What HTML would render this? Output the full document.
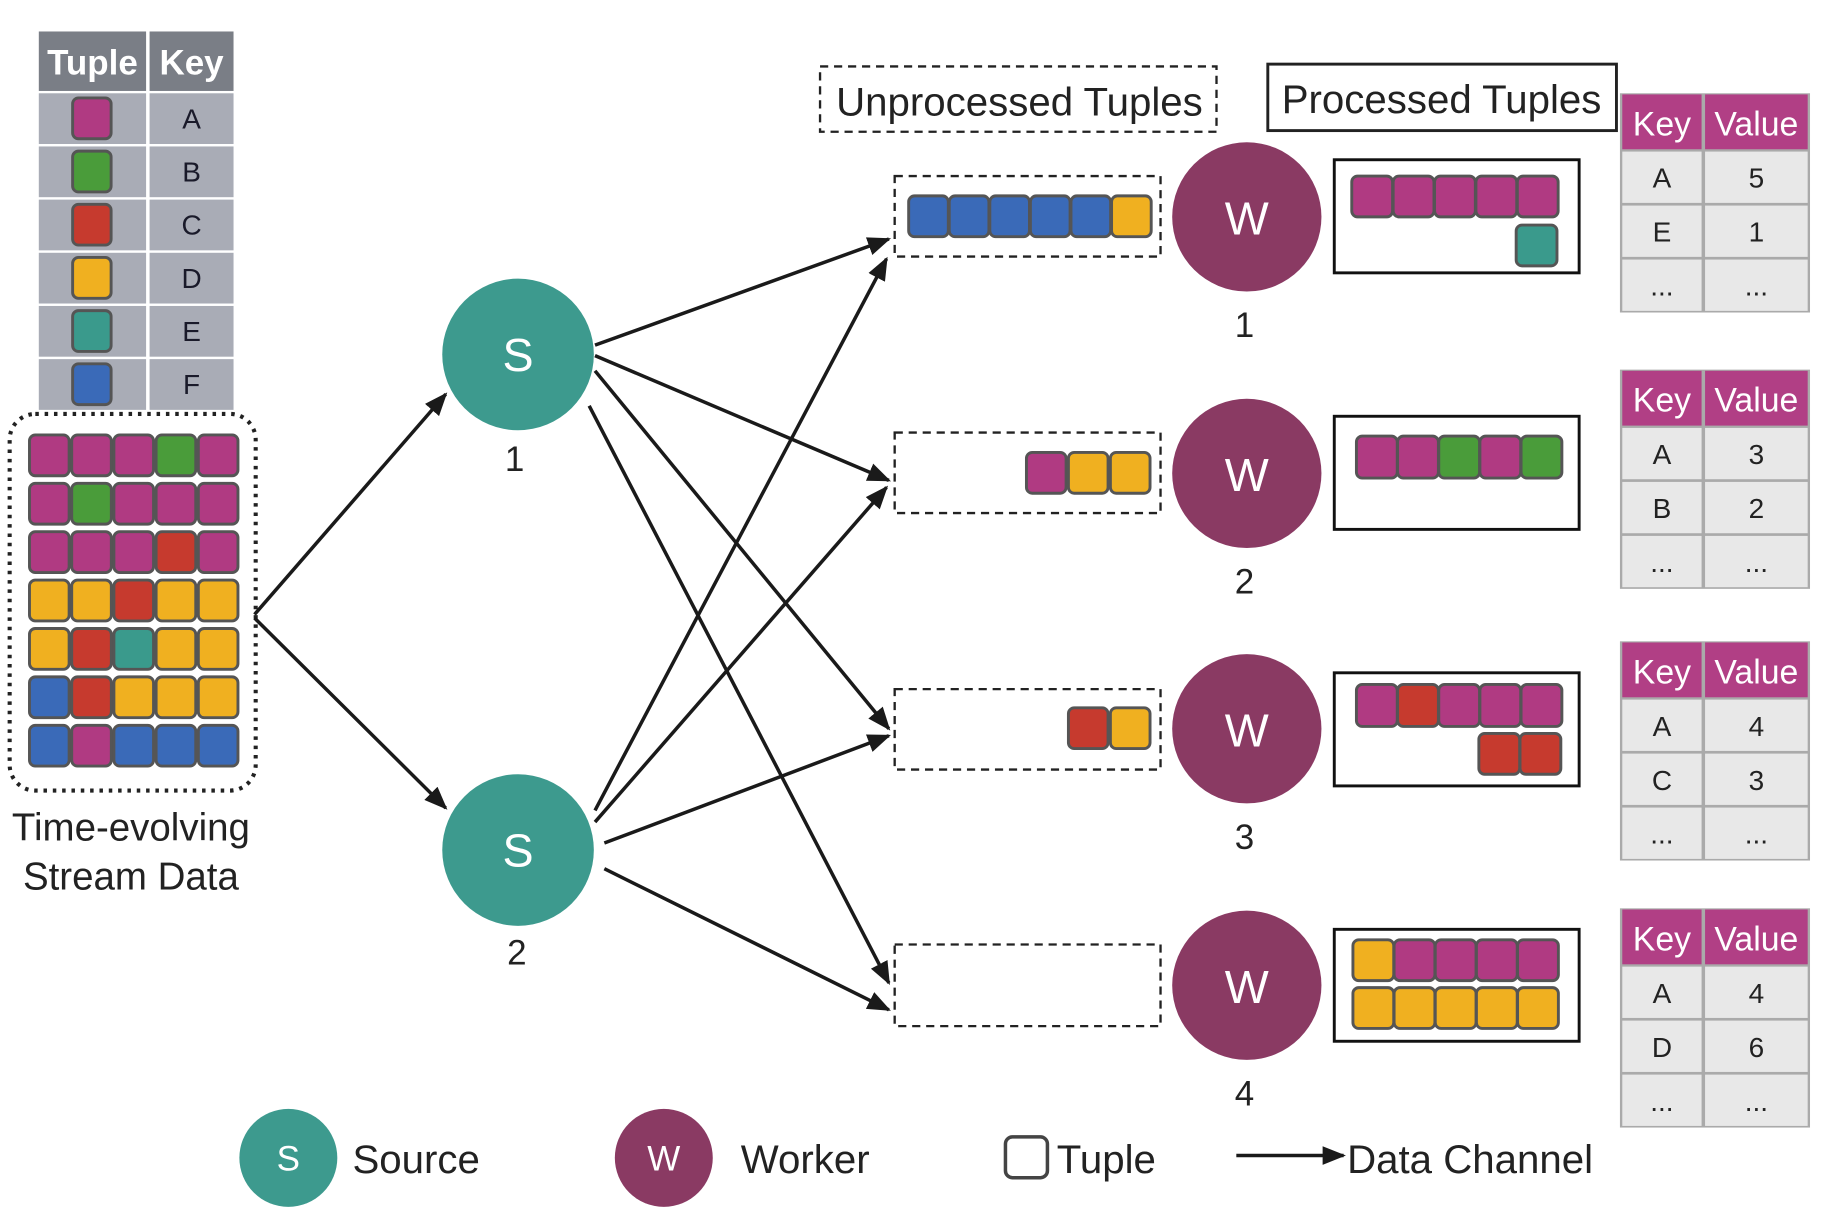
<!DOCTYPE html>
<html><head><meta charset="utf-8"><style>
html,body{margin:0;padding:0;background:#fff;}
svg{display:block;font-family:"Liberation Sans",sans-serif;}
</style></head><body>
<svg id="s" width="1829" height="1222" viewBox="0 0 1568 1048" xmlns="http://www.w3.org/2000/svg">
<defs>
<marker id="ah2" markerWidth="20" markerHeight="16" refX="18" refY="8" orient="auto" markerUnits="userSpaceOnUse"><path d="M0,0 L20,8 L0,16 z" fill="#1a1a1a"/></marker>
</defs>
<rect x="33" y="27" width="92" height="51" fill="#7a7e86"/>
<rect x="128" y="27" width="72" height="51" fill="#7a7e86"/>
<text x="79" y="64" font-size="30" font-weight="bold" fill="#fff" text-anchor="middle">Tuple</text>
<text x="164" y="64" font-size="30" font-weight="bold" fill="#fff" text-anchor="middle">Key</text>
<g id="legrows"></g>
<rect x="8" y="355" width="211" height="323" rx="22" fill="none" stroke="#222" stroke-width="3.5" stroke-dasharray="3 5"/>
<g id="tiles"></g>
<text x="112" y="721" font-size="33" text-anchor="middle" fill="#222">Time-evolving</text>
<text x="112" y="763" font-size="33" text-anchor="middle" fill="#222">Stream Data</text>
<rect x="703" y="57" width="340" height="56" fill="none" stroke="#222" stroke-width="2" stroke-dasharray="7 5"/>
<text x="874" y="99" font-size="34.5" text-anchor="middle" fill="#222">Unprocessed Tuples</text>
<rect x="1087" y="55" width="299" height="57" fill="none" stroke="#222" stroke-width="2.5"/>
<text x="1236" y="97" font-size="34.5" text-anchor="middle" fill="#222">Processed Tuples</text>
<g stroke="#1a1a1a" stroke-width="3" marker-end="url(#ah2)">
<line x1="218" y1="527" x2="382" y2="338"/>
<line x1="218" y1="530" x2="382" y2="693"/>
<line x1="510" y1="296" x2="762" y2="205"/>
<line x1="510" y1="305" x2="762" y2="412"/>
<line x1="510" y1="318" x2="762" y2="625"/>
<line x1="505" y1="348" x2="762" y2="843"/>
<line x1="510" y1="695" x2="760" y2="222"/>
<line x1="510" y1="705" x2="760" y2="418"/>
<line x1="518" y1="723" x2="762" y2="631"/>
<line x1="518" y1="745" x2="762" y2="866"/>
</g>
<circle cx="444" cy="304" r="65" fill="#3d9a8e"/>
<text x="444" y="318" font-size="40" fill="#fff" text-anchor="middle">S</text>
<text x="441" y="404" font-size="30" fill="#222" text-anchor="middle">1</text>
<circle cx="444" cy="729" r="65" fill="#3d9a8e"/>
<text x="444" y="743" font-size="40" fill="#fff" text-anchor="middle">S</text>
<text x="443" y="827" font-size="30" fill="#222" text-anchor="middle">2</text>
<g fill="none" stroke="#222" stroke-width="2" stroke-dasharray="7 5">
<rect x="767" y="151" width="228" height="69"/>
<rect x="767" y="371" width="228" height="69"/>
<rect x="767" y="591" width="228" height="69"/>
<rect x="767" y="810" width="228" height="70"/>
</g>
<g id="workers"></g>
<g fill="none" stroke="#111" stroke-width="2.5">
<rect x="1144" y="137" width="210" height="97"/>
<rect x="1144" y="357" width="210" height="97"/>
<rect x="1144" y="577" width="210" height="97"/>
<rect x="1144" y="797" width="210" height="96"/>
</g>
<g id="tables"></g>
<circle cx="247" cy="993" r="42" fill="#3d9a8e"/>
<text x="247" y="1004" font-size="30" fill="#fff" text-anchor="middle">S</text>
<text x="302" y="1006" font-size="34.5" fill="#222">Source</text>
<circle cx="569" cy="993" r="42" fill="#8a3a63"/>
<text x="569" y="1004" font-size="30" fill="#fff" text-anchor="middle">W</text>
<text x="635" y="1006" font-size="34.5" fill="#222">Worker</text>
<rect x="862" y="975" width="36" height="35" rx="6" fill="#fff" stroke="#444" stroke-width="3"/>
<text x="906" y="1006" font-size="34.5" fill="#222">Tuple</text>
<line x1="1060" y1="991" x2="1152" y2="991" stroke="#1a1a1a" stroke-width="3" marker-end="url(#ah2)"/>
<text x="1155" y="1006" font-size="34.5" fill="#222">Data Channel</text>
</svg>
<script>
var NS="http://www.w3.org/2000/svg";
var C={A:"#b03a82",B:"#4a9c3a",C:"#c63a2e",D:"#f0b020",E:"#3a9a8c",F:"#3a6ab8"};
function el(p,t,a,txt){var e=document.createElementNS(NS,t);for(var k in a)e.setAttribute(k,a[k]);if(txt!=null)e.textContent=txt;p.appendChild(e);return e;}
function tile(p,x,y,k,w,h){el(p,"rect",{x:x,y:y,width:w||34,height:h||34,rx:5,fill:C[k],stroke:"#555","stroke-width":2.5});}
var lg=document.getElementById("legrows");
"ABCDEF".split("").forEach(function(k,i){var y=80+i*45.6;
el(lg,"rect",{x:33,y:y,width:92,height:43.5,fill:"#a9acb6"});
el(lg,"rect",{x:128,y:y,width:72,height:43.5,fill:"#a9acb6"});
tile(lg,62,y+4,k,33,35);
el(lg,"text",{x:164,y:y+30,"font-size":24,"text-anchor":"middle",fill:"#1a1a2a"},k);});
var rows=["AAABA","ABAAA","AAACA","DDCDD","DCEDD","FCDDD","FAFFF"];
var tg=document.getElementById("tiles");
rows.forEach(function(r,i){r.split("").forEach(function(k,j){tile(tg,25+j*36.2,373+i*41.5,k,34,35);});});
var qg=tg;
"FFFFFD".split("").forEach(function(k,j){tile(qg,779+j*34.8,168,k,34,35);});
"ADD".split("").forEach(function(k,j){tile(qg,880+j*36,388,k,34,35);});
"CD".split("").forEach(function(k,j){tile(qg,916+j*36,607,k,34,35);});
"AAAAA".split("").forEach(function(k,j){tile(qg,1159+j*35.5,151,k,35,35);});
tile(qg,1300,193,"E",35,35);
"AABAB".split("").forEach(function(k,j){tile(qg,1163+j*35.3,374,k,35,36);});
"ACAAA".split("").forEach(function(k,j){tile(qg,1163+j*35.3,587,k,35,36);});
"CC".split("").forEach(function(k,j){tile(qg,1268+j*35.3,629,k,35,35);});
"DAAAA".split("").forEach(function(k,j){tile(qg,1160+j*35.3,806,k,35,35);});
"DDDDD".split("").forEach(function(k,j){tile(qg,1160+j*35.3,847,k,35,35);});
var wg=document.getElementById("workers");
[186,406,625,845].forEach(function(cy,i){
el(wg,"circle",{cx:1069,cy:cy,r:64,fill:"#8a3a63"});
el(wg,"text",{x:1069,y:cy+15,"font-size":40,fill:"#fff","text-anchor":"middle"},"W");
el(wg,"text",{x:1067,y:cy+103,"font-size":30,fill:"#222","text-anchor":"middle"},String(i+1));});
var tb=document.getElementById("tables");
var data=[[80,"A","5","E","1"],[317,"A","3","B","2"],[550,"A","4","C","3"],[779,"A","4","D","6"]];
data.forEach(function(d){var y=d[0];
el(tb,"rect",{x:1389,y:y,width:163,height:188,fill:"#aaa"});
el(tb,"rect",{x:1391,y:y+1,width:68,height:47,fill:"#b13f85"});
el(tb,"rect",{x:1462,y:y+1,width:88,height:47,fill:"#b13f85"});
el(tb,"text",{x:1425,y:y+36,"font-size":29,fill:"#fff","text-anchor":"middle"},"Key");
el(tb,"text",{x:1506,y:y+36,"font-size":29,fill:"#fff","text-anchor":"middle"},"Value");
for(var r=0;r<3;r++){var yy=y+50+r*46.3;
el(tb,"rect",{x:1391,y:yy,width:68,height:44,fill:"#e8e8e8"});
el(tb,"rect",{x:1462,y:yy,width:88,height:44,fill:"#e8e8e8"});
var a=r<2?d[1+r*2]:"...",b=r<2?d[2+r*2]:"...";
el(tb,"text",{x:1425,y:yy+31,"font-size":24,fill:"#222","text-anchor":"middle"},a);
el(tb,"text",{x:1506,y:yy+31,"font-size":24,fill:"#222","text-anchor":"middle"},b);}
});
</script>
</body></html>
